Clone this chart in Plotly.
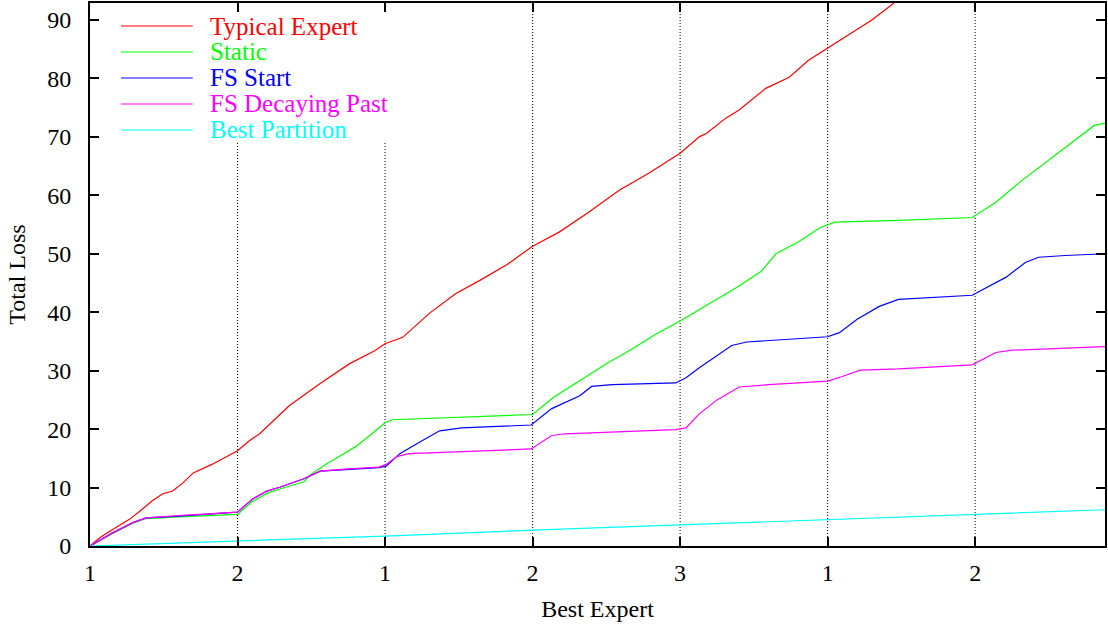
import plotly.graph_objects as go

# ---------------- data ----------------
segment_starts = [0, 100, 200, 300, 400, 500, 600]
segment_labels = ["1", "2", "1", "2", "3", "1", "2"]
x_max = 688
y_max = 92.9

series_names = ["Typical Expert", "Static", "FS Start", "FS Decaying Past", "Best Partition"]
series_colors = ["#ff0000", "#00ff00", "#0000ff", "#ff00ff", "#00ffff"]

typical_x = [0, 7, 14, 27, 35, 42, 49, 56, 63, 70, 83, 100, 108, 115, 135, 156, 176, 193, 200, 212,
             230, 248, 264, 283, 300, 318, 338, 359, 379, 400, 413, 418, 431, 440, 458, 474, 487,
             500, 510, 521, 530, 545]
typical_y = [0, 1.5, 2.6, 4.6, 6.2, 7.7, 8.9, 9.4, 10.8, 12.5, 14.0, 16.3, 18.0, 19.2, 24.0, 27.8,
             31.2, 33.4, 34.6, 35.7, 39.8, 43.2, 45.4, 48.2, 51.3, 53.7, 57.1, 60.9, 63.8, 67.2,
             70.0, 70.6, 73.2, 74.6, 78.3, 80.2, 83.1, 85.2, 86.9, 88.6, 90.0, 92.9]

static_x = [0, 15, 29, 38, 60, 100, 110, 120, 129, 145, 150, 160, 170, 180, 190, 200, 205, 300,
            314, 332, 350, 368, 384, 400, 420, 440, 455, 465, 480, 495, 505, 548, 598, 614, 632,
            665, 681, 688]
static_y = [0, 2.1, 3.9, 4.7, 5.0, 5.4, 7.6, 9.0, 9.8, 11.0, 12.3, 14.0, 15.5, 17.0, 19.0, 21.1,
            21.6, 22.5, 25.4, 28.3, 31.2, 33.8, 36.3, 38.5, 41.5, 44.5, 47.0, 50.0, 52.0, 54.5,
            55.4, 55.7, 56.2, 58.8, 62.6, 68.9, 72.0, 72.3]

fs_start_x = [0, 15, 29, 38, 60, 100, 110, 120, 129, 145, 156, 175, 196, 201, 210, 223, 237, 252,
              299, 313, 332, 340, 354, 397, 404, 413, 425, 435, 445, 480, 500, 508, 520, 535, 548,
              598, 614, 621, 634, 643, 661, 688]
fs_start_y = [0, 2.2, 4.0, 4.8, 5.1, 5.8, 8.0, 9.4, 10.1, 11.5, 12.8, 13.1, 13.4, 13.7, 15.8, 17.7,
              19.7, 20.2, 20.7, 23.5, 25.7, 27.3, 27.6, 27.9, 28.8, 30.5, 32.5, 34.3, 34.9, 35.4,
              35.8, 36.5, 38.8, 41.0, 42.2, 42.9, 45.1, 46.0, 48.5, 49.4, 49.7, 50.0]

fs_decay_x = [0, 15, 29, 38, 60, 100, 110, 120, 129, 145, 156, 175, 196, 201, 208, 216, 299, 313,
              322, 397, 404, 413, 425, 440, 460, 500, 510, 522, 548, 598, 614, 625, 688]
fs_decay_y = [0, 2.2, 4.0, 4.8, 5.2, 5.8, 8.0, 9.4, 10.1, 11.5, 12.8, 13.2, 13.5, 14.0, 15.3, 15.8,
              16.6, 18.9, 19.2, 19.9, 20.2, 22.6, 25.0, 27.2, 27.6, 28.2, 29.0, 30.1, 30.3, 31.0,
              33.1, 33.5, 34.1]

best_part_x = [0, 100, 200, 300, 400, 500, 600, 688]
best_part_y = [0, 0.8, 1.7, 2.7, 3.6, 4.5, 5.4, 6.2]

series_x = [typical_x, static_x, fs_start_x, fs_decay_x, best_part_x]
series_y = [typical_y, static_y, fs_start_y, fs_decay_y, best_part_y]

# ---------------- figure ----------------
W, H = 1108, 624
ML, MR, MT, MB = 90, 1, 3, 78
FONT = "Liberation Serif, Times New Roman, serif"

fig = go.Figure()
for name, col, xs, ys in zip(series_names, series_colors, series_x, series_y):
    fig.add_trace(go.Scatter(x=xs, y=ys, mode="lines", name=name,
                             line=dict(color=col, width=1.2), showlegend=False,
                             cliponaxis=True))

# vertical dotted separators at segment boundaries
for i, xs in enumerate(segment_starts[1:]):
    top = 69.3 if i < 2 else y_max
    fig.add_shape(type="line", xref="x", yref="y", x0=xs, x1=xs, y0=0, y1=top,
                  line=dict(color="black", width=1, dash="1px,2px"), layer="below")

# key (legend) drawn gnuplot-style
pw = W - ML - MR
ph = H - MT - MB
def px2paper_x(px):
    return (px - ML) / pw
def px2paper_y(py):
    return (H - MB - py) / ph

key_rows = [26, 52, 78, 104, 130]
for name, col, py in zip(series_names, series_colors, key_rows):
    fig.add_shape(type="line", xref="paper", yref="paper",
                  x0=px2paper_x(121), x1=px2paper_x(193),
                  y0=px2paper_y(py), y1=px2paper_y(py),
                  line=dict(color=col, width=1.2))
    fig.add_annotation(xref="paper", yref="paper", x=px2paper_x(208), y=px2paper_y(py),
                       text=name, showarrow=False, xanchor="left", yanchor="middle",
                       font=dict(family=FONT, size=25, color=col))

axis_common = dict(showline=True, linecolor="black", linewidth=2, mirror="ticks",
                   ticks="inside", ticklen=9, tickwidth=1.5, tickcolor="black",
                   showgrid=False, zeroline=False,
                   tickfont=dict(family=FONT, size=24, color="black"))

fig.update_layout(
    width=W, height=H,
    margin=dict(l=ML, r=MR, t=MT, b=MB),
    paper_bgcolor="white", plot_bgcolor="white",
    font=dict(family=FONT, size=24, color="black"),
    xaxis=dict(range=[0, x_max], tickvals=segment_starts, ticktext=segment_labels,
               title=dict(text="Best Expert", font=dict(family=FONT, size=24), standoff=15),
               ticklabelstandoff=4, **axis_common),
    yaxis=dict(range=[0, y_max], tickvals=list(range(0, 91, 10)),
               title=dict(text="Total Loss", font=dict(family=FONT, size=24), standoff=15),
               ticklabelstandoff=12, **axis_common),
)

fig.write_html("out.html",
               config={"displayModeBar": False},
               post_script="document.body.style.margin='0';document.body.style.padding='0';")
